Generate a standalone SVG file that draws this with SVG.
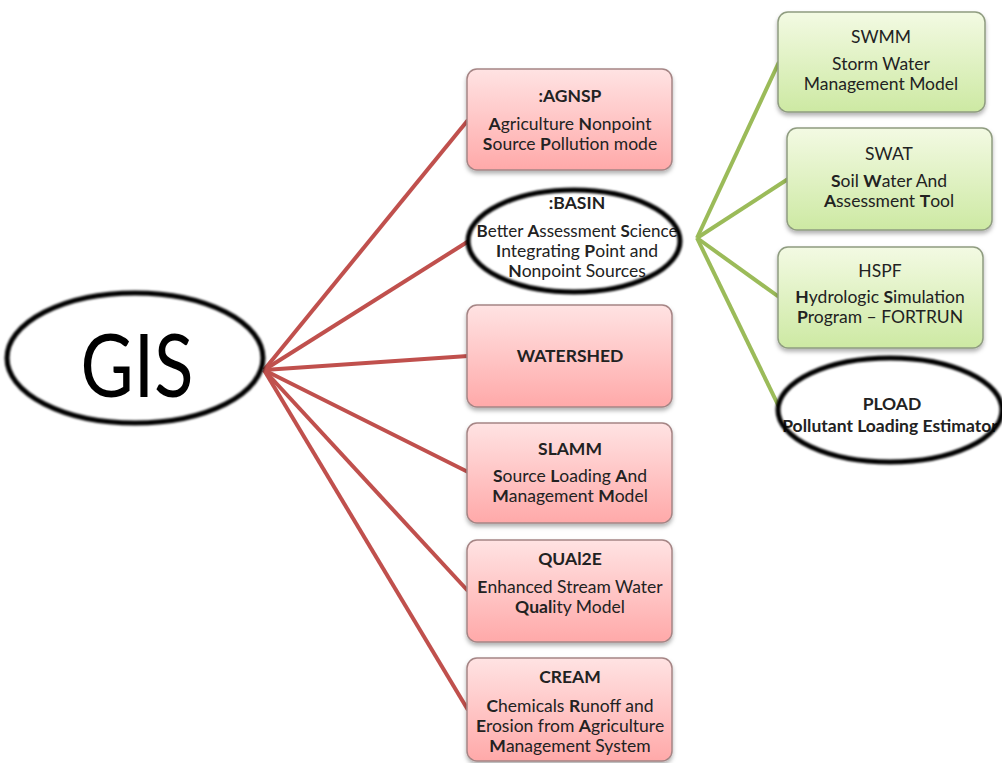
<svg xmlns="http://www.w3.org/2000/svg" width="1002" height="763" viewBox="0 0 1002 763">
<defs>
<linearGradient id="gRed" x1="0" y1="0" x2="0" y2="1">
<stop offset="0" stop-color="#ffe3e3"/>
<stop offset="1" stop-color="#ffa9a9"/>
</linearGradient>
<linearGradient id="gGreen" x1="0" y1="0" x2="0" y2="1">
<stop offset="0" stop-color="#f3fae3"/>
<stop offset="1" stop-color="#cde9a3"/>
</linearGradient>
<filter id="sh" x="-10%" y="-10%" width="120%" height="130%">
<feDropShadow dx="0" dy="3" stdDeviation="2" flood-color="#000" flood-opacity="0.3"/>
</filter>
<filter id="bl" x="-10%" y="-10%" width="120%" height="120%">
<feGaussianBlur stdDeviation="0.8"/>
</filter>
</defs>
<style>
.red{fill:url(#gRed);stroke:#a58585;stroke-width:1.5;filter:url(#sh)}
.grn{fill:url(#gGreen);stroke:#8f9c80;stroke-width:1.5;filter:url(#sh)}
.ell{fill:none;stroke:#000;stroke-width:5;filter:url(#bl)}
.ellf{fill:#fff;stroke:none}
text{font-family:Lato,"Open Sans","Liberation Sans",sans-serif;font-size:17.5px;fill:#222;text-anchor:middle}
.t{font-weight:bold}
.b{font-weight:bold}
.rl{stroke:#c0504d;stroke-width:4;fill:none}
.gl{stroke:#9bbb59;stroke-width:4;fill:none}
</style>
<rect width="1002" height="763" fill="#fff"/>
<g id="connectors">
<line class="rl" x1="264" y1="370" x2="468" y2="120"/>
<line class="rl" x1="264" y1="370" x2="472" y2="239"/>
<line class="rl" x1="264" y1="370" x2="468" y2="356"/>
<line class="rl" x1="264" y1="370" x2="468" y2="472"/>
<line class="rl" x1="264" y1="370" x2="468" y2="591"/>
<line class="rl" x1="264" y1="370" x2="468" y2="710"/>
<line class="gl" x1="697" y1="238" x2="779" y2="62"/>
<line class="gl" x1="697" y1="238" x2="788" y2="179"/>
<line class="gl" x1="697" y1="238" x2="779" y2="297"/>
<line class="gl" x1="697" y1="238" x2="782" y2="413"/>
</g>
<g id="gis">
<ellipse class="ellf" cx="135" cy="358" rx="128" ry="65"/>
<text x="137" y="397" style="font-size:88px;fill:#000;font-weight:normal" textLength="113" lengthAdjust="spacingAndGlyphs">GIS</text>
<ellipse class="ell" cx="135" cy="358" rx="128" ry="65"/>
</g>
<g id="agnsp">
<rect class="red" x="467" y="69" width="205" height="101" rx="10"/>
<text x="570" y="102" class="t">:AGNSP</text>
<text x="570" y="130"><tspan class="b">A</tspan>griculture <tspan class="b">N</tspan>onpoint</text>
<text x="570" y="150"><tspan class="b">S</tspan>ource <tspan class="b">P</tspan>ollution mode</text>
</g>
<g id="basin">
<ellipse class="ellf" cx="574" cy="241" rx="106" ry="51"/>
<text x="577" y="209" class="t">:BASIN</text>
<text x="577" y="237" style="font-size:17px"><tspan class="b">B</tspan>etter <tspan class="b">A</tspan>ssessment <tspan class="b">S</tspan>cience</text>
<text x="577" y="257"><tspan class="b">I</tspan>ntegrating <tspan class="b">P</tspan>oint and</text>
<text x="577" y="277"><tspan class="b">N</tspan>onpoint Sources</text>
<ellipse class="ell" cx="574" cy="241" rx="106" ry="51"/>
</g>
<g id="watershed">
<rect class="red" x="467" y="305" width="205" height="102" rx="10"/>
<text x="570" y="362" class="t">WATERSHED</text>
</g>
<g id="slamm">
<rect class="red" x="467" y="423" width="205" height="100" rx="10"/>
<text x="570" y="455" class="t">SLAMM</text>
<text x="570" y="482"><tspan class="b">S</tspan>ource <tspan class="b">L</tspan>oading <tspan class="b">A</tspan>nd</text>
<text x="570" y="502"><tspan class="b">M</tspan>anagement <tspan class="b">M</tspan>odel</text>
</g>
<g id="qual2e">
<rect class="red" x="467" y="540" width="205" height="102" rx="10"/>
<text x="570" y="565" class="t">QUAl2E</text>
<text x="570" y="593"><tspan class="b">E</tspan>nhanced Stream Water</text>
<text x="570" y="613"><tspan class="b">Qual</tspan>ity Model</text>
</g>
<g id="cream">
<rect class="red" x="467" y="658" width="205" height="103" rx="10"/>
<text x="570" y="683" class="t">CREAM</text>
<text x="570" y="712"><tspan class="b">C</tspan>hemicals  <tspan class="b">R</tspan>unoff and</text>
<text x="570" y="732"><tspan class="b">E</tspan>rosion from <tspan class="b">A</tspan>griculture</text>
<text x="570" y="752"><tspan class="b">M</tspan>anagement System</text>
</g>
<g id="swmm">
<rect class="grn" x="778" y="12" width="207" height="100" rx="10"/>
<text x="881" y="43">SWMM</text>
<text x="881" y="70">Storm Water</text>
<text x="881" y="90">Management Model</text>
</g>
<g id="swat">
<rect class="grn" x="787" y="128" width="205" height="102" rx="10"/>
<text x="889" y="160">SWAT</text>
<text x="889" y="187"><tspan class="b">S</tspan>oil <tspan class="b">W</tspan>ater And</text>
<text x="889" y="207"><tspan class="b">A</tspan>ssessment <tspan class="b">T</tspan>ool</text>
</g>
<g id="hspf">
<rect class="grn" x="778" y="247" width="205" height="101" rx="10"/>
<text x="880" y="277">HSPF</text>
<text x="880" y="303"><tspan class="b">H</tspan>ydrologic <tspan class="b">S</tspan>imulation</text>
<text x="880" y="323"><tspan class="b">P</tspan>rogram – FORTRUN</text>
</g>
<g id="pload">
<ellipse class="ellf" cx="890" cy="410" rx="112" ry="52"/>
<text x="892" y="410" class="t">PLOAD</text>
<text x="890" y="432" class="t" style="font-size:17.5px">Pollutant Loading Estimator</text>
<ellipse class="ell" cx="890" cy="410" rx="112" ry="52"/>
</g>
</svg>
